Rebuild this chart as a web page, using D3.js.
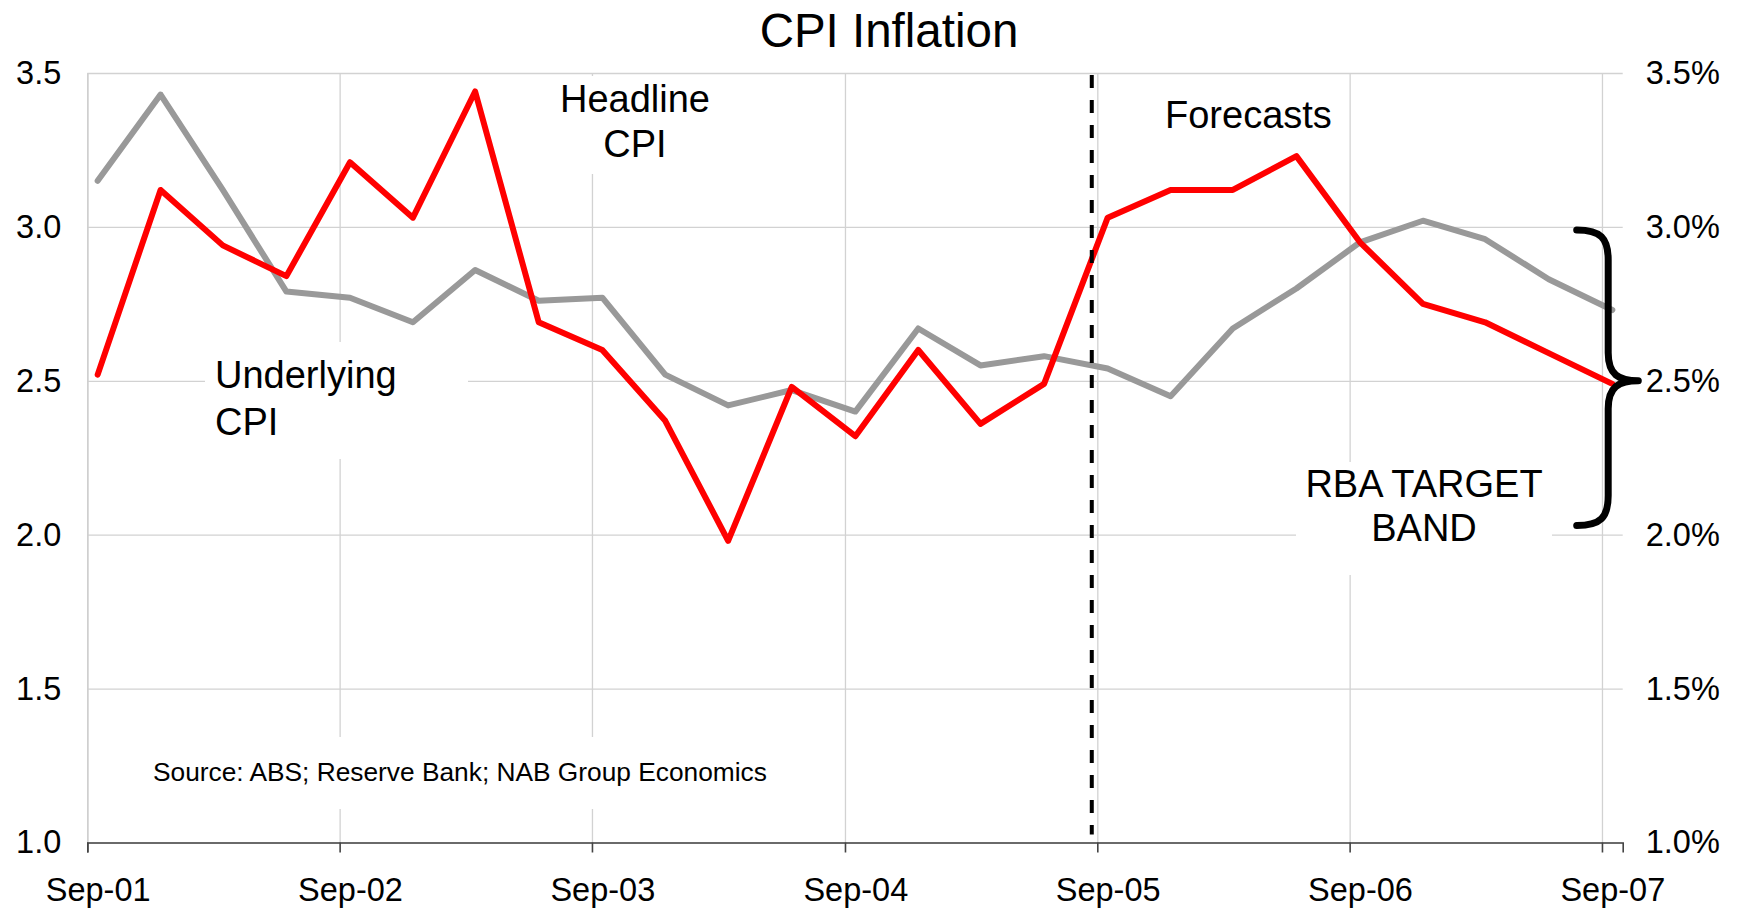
<!DOCTYPE html>
<html>
<head>
<meta charset="utf-8">
<title>CPI Inflation</title>
<script src="https://cdn.jsdelivr.net/npm/d3@7"></script>
<style>
    body { margin: 0; background: #fff; }
    svg text { font-family: 'Liberation Sans', Arial, sans-serif; fill: #000; }
</style>
</head>
<body>
<div id="chart"></div>
<script>
// Quarterly figures, Sep-01 .. Sep-07 (from Sep-05 on they are forecasts)
const quarters = ['Sep-01', 'Dec-01', 'Mar-02', 'Jun-02', 'Sep-02', 'Dec-02', 'Mar-03', 'Jun-03',
    'Sep-03', 'Dec-03', 'Mar-04', 'Jun-04', 'Sep-04', 'Dec-04', 'Mar-05', 'Jun-05',
    'Sep-05', 'Dec-05', 'Mar-06', 'Jun-06', 'Sep-06', 'Dec-06', 'Mar-07', 'Jun-07', 'Sep-07'];

const underlyingCPI = [3.15, 3.43, 3.12, 2.79, 2.77, 2.69, 2.86, 2.76,
    2.77, 2.52, 2.42, 2.47, 2.40, 2.67, 2.55, 2.58,
    2.54, 2.45, 2.67, 2.80, 2.95, 3.02, 2.96, 2.83, 2.73];

const headlineCPI = [2.52, 3.12, 2.94, 2.84, 3.21, 3.03, 3.44, 2.69,
    2.60, 2.37, 1.98, 2.48, 2.32, 2.60, 2.36, 2.49,
    3.03, 3.12, 3.12, 3.23, 2.95, 2.75, 2.69, 2.59, 2.49];

const yearTicks = ['Sep-01', 'Sep-02', 'Sep-03', 'Sep-04', 'Sep-05', 'Sep-06', 'Sep-07'];
const yTicks = [1.0, 1.5, 2.0, 2.5, 3.0, 3.5];

const forecastStart = '2005-08-24';
const targetBand = [2.03, 2.99]; // ends of the brace

class CpiChart {
    constructor(_config) {
        this.config = {
            parentElement: _config.parentElement,
            containerWidth: _config.containerWidth || 1744,
            containerHeight: _config.containerHeight || 911,
            margin: _config.margin || {top: 73, right: 121.3, bottom: 68.5, left: 87.3}
        }
        this.initVis();
    }

    initVis() {
        let vis = this;

        vis.width = vis.config.containerWidth - vis.config.margin.left - vis.config.margin.right;
        vis.height = vis.config.containerHeight - vis.config.margin.top - vis.config.margin.bottom;

        vis.parseQ = d3.timeParse('%b-%y');
        vis.mid = d => d3.timeDay.offset(vis.parseQ(d), 15);

        vis.svg = d3.select(vis.config.parentElement).append('svg')
            .attr('width', vis.config.containerWidth)
            .attr('height', vis.config.containerHeight);

        vis.chart = vis.svg.append('g')
            .attr('transform', `translate(${vis.config.margin.left},${vis.config.margin.top})`);

        // one month of space after the last tick
        vis.xScale = d3.scaleTime()
            .domain([vis.parseQ(yearTicks[0]), d3.timeMonth.offset(vis.parseQ(yearTicks[yearTicks.length - 1]), 1)])
            .range([0, vis.width]);

        vis.yScale = d3.scaleLinear()
            .domain([1, 3.5])
            .range([vis.height, 0]);

        vis.line = d3.line()
            .x(d => vis.xScale(d.date))
            .y(d => vis.yScale(d.value));
    }

    updateVis() {
        let vis = this;
        vis.series = [
            {name: 'underlying', color: '#999999', values: quarters.map((q, i) => ({date: vis.mid(q), value: underlyingCPI[i]}))},
            {name: 'headline', color: '#ff0000', values: quarters.map((q, i) => ({date: vis.mid(q), value: headlineCPI[i]}))}
        ];
        vis.renderVis();
    }

    renderVis() {
        let vis = this;
        const tickDates = yearTicks.map(vis.parseQ);

        // grid
        vis.chart.append('g')
            .attr('class', 'grid')
            .call(d3.axisLeft(vis.yScale).tickValues(yTicks).tickSize(-vis.width).tickFormat(''))
            .call(g => g.select('.domain').remove())
            .call(g => g.selectAll('line').attr('stroke', '#d2d2d2').attr('stroke-width', 1.3));

        vis.chart.append('g')
            .attr('class', 'grid')
            .call(d3.axisTop(vis.xScale).tickValues(tickDates).tickSize(-vis.height).tickFormat(''))
            .call(g => g.select('.domain').remove())
            .call(g => g.selectAll('line').attr('stroke', '#d2d2d2').attr('stroke-width', 1.3));

        // white text boxes that hide the grid behind the notes
        const boxes = [
            [550, 76, 172, 98],
            [205, 342, 263, 117],
            [1155, 85, 185, 66],
            [1296, 462, 256, 113],
            [140, 737, 638, 72]
        ];
        vis.svg.append('g').selectAll('rect')
            .data(boxes)
            .join('rect')
            .attr('x', d => d[0]).attr('y', d => d[1])
            .attr('width', d => d[2]).attr('height', d => d[3])
            .attr('fill', '#fff');

        // left axis
        vis.chart.append('g')
            .call(d3.axisLeft(vis.yScale).tickValues(yTicks).tickSize(0).tickPadding(26).tickFormat(d3.format('.1f')))
            .call(g => g.select('.domain').attr('stroke', '#cfcfcf').attr('stroke-width', 1.5))
            .call(g => g.selectAll('text').attr('font-size', 32.5).attr('font-family', null));

        // right axis
        vis.chart.append('g')
            .attr('transform', `translate(${vis.width},0)`)
            .call(d3.axisRight(vis.yScale).tickValues(yTicks).tickSize(0).tickPadding(23).tickFormat(d => d3.format('.1f')(d) + '%'))
            .call(g => g.select('.domain').remove())
            .call(g => g.selectAll('text').attr('font-size', 32.5).attr('font-family', null));

        // bottom axis, labels centred on the month
        vis.chart.append('g')
            .attr('transform', `translate(0,${vis.height})`)
            .call(d3.axisBottom(vis.xScale).tickValues(tickDates).tickSize(10).tickPadding(25).tickFormat(d3.timeFormat('%b-%y')))
            .call(g => g.select('.domain').attr('stroke', '#444').attr('stroke-width', 1.6))
            .call(g => g.selectAll('line').attr('stroke', '#444').attr('stroke-width', 1.6))
            .call(g => g.selectAll('text')
                .attr('font-size', 32.5).attr('font-family', null)
                .attr('x', d => vis.xScale(d3.timeDay.offset(d, 15)) - vis.xScale(d)));

        // series
        vis.chart.selectAll('.series')
            .data(vis.series)
            .join('path')
            .attr('class', 'series')
            .attr('d', d => vis.line(d.values))
            .attr('fill', 'none')
            .attr('stroke', d => d.color)
            .attr('stroke-width', 6)
            .attr('stroke-linejoin', 'round')
            .attr('stroke-linecap', 'round');

        // forecast divider
        const fx = vis.xScale(new Date(forecastStart));
        vis.chart.append('line')
            .attr('x1', fx).attr('x2', fx)
            .attr('y1', 2).attr('y2', vis.height - 8)
            .attr('stroke', '#000')
            .attr('stroke-width', 4)
            .attr('stroke-dasharray', '13,12');

        // brace for the RBA target band
        const R = vis.width;
        const yTop = vis.yScale(targetBand[1]), yMid = vis.yScale(2.5), yBot = vis.yScale(targetBand[0]);
        const bx = R - 14.5;
        const p = d3.path();
        p.moveTo(R - 46, yTop);
        p.bezierCurveTo(R - 22, yTop, bx, yTop + 8, bx, yTop + 30);
        p.lineTo(bx, yMid - 28);
        p.bezierCurveTo(bx, yMid - 6, R - 4, yMid, R + 15.6, yMid);
        p.bezierCurveTo(R - 4, yMid, bx, yMid + 6, bx, yMid + 28);
        p.lineTo(bx, yBot - 30);
        p.bezierCurveTo(bx, yBot - 8, R - 22, yBot, R - 46, yBot);
        vis.chart.append('path')
            .attr('d', p.toString())
            .attr('fill', 'none')
            .attr('stroke', '#000')
            .attr('stroke-width', 7)
            .attr('stroke-linecap', 'round')
            .attr('stroke-linejoin', 'round');

        // title and notes
        vis.svg.append('text')
            .attr('x', 889).attr('y', 47)
            .attr('text-anchor', 'middle')
            .attr('font-size', 47.5)
            .text('CPI Inflation');

        const notes = [
            {x: 635, y: 112, anchor: 'middle', size: 38, text: 'Headline'},
            {x: 635, y: 157, anchor: 'middle', size: 38, text: 'CPI'},
            {x: 215, y: 388, anchor: 'start', size: 38, text: 'Underlying'},
            {x: 215, y: 435, anchor: 'start', size: 38, text: 'CPI'},
            {x: 1165, y: 128, anchor: 'start', size: 38, text: 'Forecasts'},
            {x: 1424, y: 497, anchor: 'middle', size: 38, text: 'RBA TARGET'},
            {x: 1424, y: 541, anchor: 'middle', size: 38, text: 'BAND'},
            {x: 153, y: 781, anchor: 'start', size: 26.3, text: 'Source: ABS; Reserve Bank; NAB Group Economics'}
        ];
        vis.svg.append('g').selectAll('text')
            .data(notes)
            .join('text')
            .attr('x', d => d.x).attr('y', d => d.y)
            .attr('text-anchor', d => d.anchor)
            .attr('font-size', d => d.size)
            .text(d => d.text);
    }
}

const chart = new CpiChart({parentElement: '#chart'});
chart.updateVis();
</script>
</body>
</html>
